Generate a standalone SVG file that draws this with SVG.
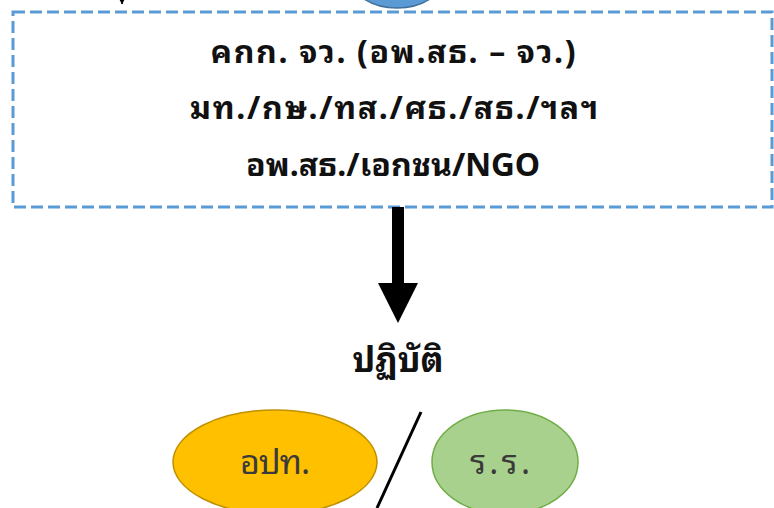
<svg xmlns="http://www.w3.org/2000/svg" width="774" height="508" viewBox="0 0 774 508">
<defs>
<style>
.th{font-family:Tahoma,"Noto Sans Thai Looped","Loma","Garuda","Waree","Noto Sans Thai","Noto Sans","DejaVu Sans",sans-serif;text-anchor:middle}
.b{font-weight:bold;fill:#111}
.e{fill:#3a3a3a;font-size:34px}
</style>
<marker id="ah" viewBox="0 0 10 10" refX="9" refY="5" markerWidth="4" markerHeight="4" orient="auto"><path d="M0,0L10,5L0,10z" fill="#000"/></marker>
</defs>
<rect width="774" height="508" fill="#fff"/>
<g id="top-node">
<ellipse cx="397" cy="-22" rx="46" ry="30" fill="#5B9BD5" stroke="#41719C" stroke-width="1.5"/>
</g>
<g id="box-node">
<rect x="13" y="12" width="759" height="195" fill="none" stroke="#5B9BD5" stroke-width="3" stroke-dasharray="12,5"/>
<text class="th b" x="393" y="63" font-size="32" textLength="365" lengthAdjust="spacing">คกก. จว. (อพ.สธ. – จว.)</text>
<text class="th b" x="394" y="119" font-size="32" textLength="408" lengthAdjust="spacing">มท./กษ./ทส./ศธ./สธ./ฯลฯ</text>
<text class="th b" x="393" y="176" font-size="32" textLength="294" lengthAdjust="spacing">อพ.สธ./เอกชน/NGO</text>
</g>
<g id="label-node">
<text class="th b" x="398" y="372" font-size="34" textLength="91" lengthAdjust="spacing">ปฏิบัติ</text>
</g>
<g id="apt-node">
<ellipse cx="275" cy="462" rx="102" ry="52" fill="#FFC000" stroke="#BF9000" stroke-width="1.5"/>
<text class="th e" x="275" y="474" textLength="70" lengthAdjust="spacing">อปท.</text>
</g>
<g id="rr-node">
<ellipse cx="505" cy="462" rx="73" ry="52" fill="#A9D18E" stroke="#70AD47" stroke-width="1.5"/>
<text class="th e" x="500" y="474" textLength="60" lengthAdjust="spacing">ร.ร.</text>
</g>
<g id="connectors">
<line x1="122" y1="-10" x2="122" y2="4" stroke="#000" stroke-width="1.5" marker-end="url(#ah)"/>
<polygon points="392,207 404,207 404,283 418,283 398,323 378,283 392,283" fill="#000"/>
<line x1="421" y1="412" x2="377" y2="508" stroke="#000" stroke-width="3"/>
</g>
</svg>
